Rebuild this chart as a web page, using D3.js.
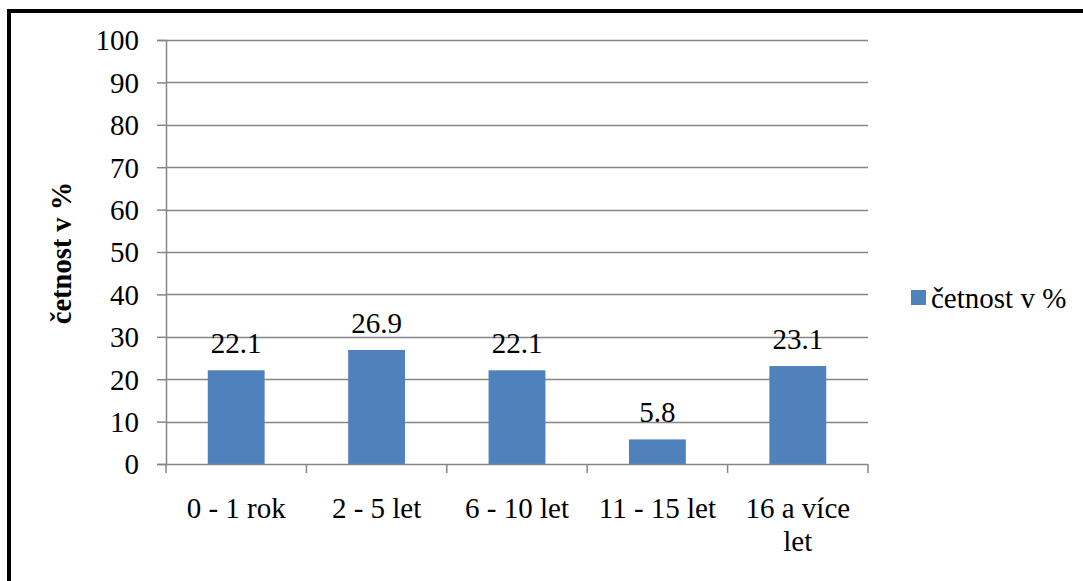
<!DOCTYPE html>
<html>
<head>
<meta charset="utf-8">
<script src="https://cdn.jsdelivr.net/npm/d3@7"></script>
<style>
  body { margin: 0; background: #fff; }
  svg { display: block; }
</style>
</head>
<body>
<svg id="chart" width="1083" height="581"></svg>
<script>
// data
const categories = ["0 - 1 rok", "2 - 5 let", "6 - 10 let", "11 - 15 let", "16 a více let"];
const values = [22.1, 26.9, 22.1, 5.8, 23.1];
const yTicks = [0, 10, 20, 30, 40, 50, 60, 70, 80, 90, 100];
const seriesName = "četnost v %";
const axisTitle = "četnost v %";

const FONT = "'Liberation Serif', 'Times New Roman', serif";
const svg = d3.select("#chart");
const plotLeft = 166, plotRight = 868, plotTop = 40, plotBottom = 464;
const gridColor = "#868686";
const barColor = "#4F81BD";
const fs = 29;

// frame (only top and left edges are visible)
svg.append("line").attr("x1", 9).attr("x2", 1083).attr("y1", 11).attr("y2", 11)
  .attr("stroke", "#000").attr("stroke-width", 4);
svg.append("line").attr("x1", 9).attr("x2", 9).attr("y1", 9).attr("y2", 581)
  .attr("stroke", "#000").attr("stroke-width", 4);

const x = d3.scaleBand().domain(categories).range([plotLeft, plotRight]).paddingInner(0.595).paddingOuter(0.2975);
const y = d3.scaleLinear().domain([0, 100]).range([plotBottom, plotTop]);

// gridlines
svg.append("g").selectAll("line").data(yTicks.filter(d => d > 0)).join("line")
  .attr("x1", plotLeft).attr("x2", plotRight)
  .attr("y1", d => Math.round(y(d)) + 0.5).attr("y2", d => Math.round(y(d)) + 0.5)
  .attr("stroke", gridColor).attr("stroke-width", 1.5);

// y axis
const yAxis = svg.append("g").attr("transform", `translate(${plotLeft},0)`)
  .call(d3.axisLeft(y).tickValues(yTicks).tickSize(9).tickPadding(18));
yAxis.select(".domain").attr("stroke", gridColor).attr("stroke-width", 1.5);
yAxis.selectAll(".tick line").attr("stroke", gridColor).attr("stroke-width", 1.5);
yAxis.selectAll(".tick text").attr("fill", "#000").attr("dy", "0.34em")
  .style("font-family", FONT).style("font-size", fs + "px");

// bars
svg.append("g").selectAll("rect").data(values).join("rect")
  .attr("x", (d, i) => x(categories[i]))
  .attr("width", x.bandwidth())
  .attr("y", d => y(d))
  .attr("height", d => y(0) - y(d))
  .attr("fill", barColor);

// x axis with ticks at category boundaries
const xb = d3.scaleLinear().domain([0, categories.length]).range([plotLeft, plotRight]);
svg.append("line").attr("x1", plotLeft).attr("x2", plotRight)
  .attr("y1", plotBottom + 0.5).attr("y2", plotBottom + 0.5)
  .attr("stroke", gridColor).attr("stroke-width", 1.5);
svg.append("g").selectAll("line").data(d3.range(categories.length + 1)).join("line")
  .attr("x1", d => xb(d)).attr("x2", d => xb(d))
  .attr("y1", plotBottom).attr("y2", plotBottom + 9)
  .attr("stroke", gridColor).attr("stroke-width", 1.5);

// category labels (wrapped like the original)
const catLabels = svg.append("g").selectAll("text").data(categories).join("text")
  .attr("x", d => x(d) + x.bandwidth() / 2)
  .attr("y", 518)
  .attr("text-anchor", "middle")
  .style("font-family", FONT).style("font-size", fs + "px")
  .attr("fill", "#000");
catLabels.each(function(d) {
  const t = d3.select(this);
  const parts = d === "16 a více let" ? ["16 a více", "let"] : [d];
  parts.forEach((p, i) => {
    t.append("tspan").attr("x", x(d) + x.bandwidth() / 2).attr("dy", i === 0 ? 0 : 33).text(p);
  });
});

// value labels
svg.append("g").selectAll("text").data(values).join("text")
  .attr("x", (d, i) => x(categories[i]) + x.bandwidth() / 2)
  .attr("y", d => y(d) - 17)
  .attr("text-anchor", "middle")
  .style("font-family", FONT).style("font-size", fs + "px")
  .attr("fill", "#000")
  .text(d => d.toFixed(1));

// y axis title
svg.append("text")
  .attr("transform", `translate(71,253) rotate(-90)`)
  .attr("text-anchor", "middle")
  .style("font-family", FONT).style("font-size", "28.5px")
  .attr("font-weight", "bold")
  .text(axisTitle);

// legend
svg.append("rect").attr("x", 911).attr("y", 290).attr("width", 15).attr("height", 15).attr("fill", barColor);
svg.append("text").attr("x", 931).attr("y", 308)
  .style("font-family", FONT).style("font-size", fs + "px")
  .attr("fill", "#000").text(seriesName);
</script>
</body>
</html>
